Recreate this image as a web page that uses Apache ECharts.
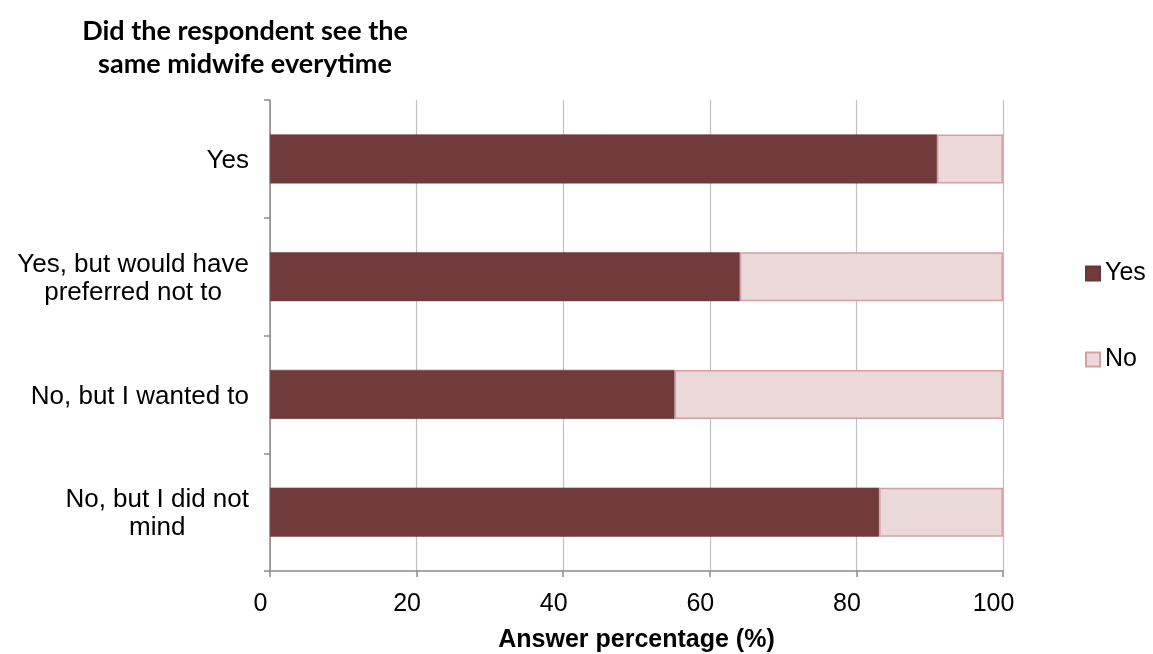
<!DOCTYPE html>
<html>
<head>
<meta charset="utf-8">
<script src="https://cdn.jsdelivr.net/npm/echarts@6/dist/echarts.min.js"></script>
<style>
html,body{margin:0;padding:0;background:#fff;}
#chart{width:1153px;height:654px;}
</style>
</head>
<body>
<div id="chart"></div>
<script>
const categories = ['Yes', 'Yes, but would have\npreferred not to', 'No, but I wanted to', 'No, but I did not\nmind'];
const yesValues = [91.0, 64.1, 55.2, 83.1];
const noValues = [9.0, 35.9, 44.8, 16.9];
const xTicks = [0, 20, 40, 60, 80, 100];
const titleText = 'Did the respondent see the\nsame midwife everytime';
const xAxisName = 'Answer percentage (%)';

const chart = echarts.init(document.getElementById('chart'));
chart.setOption({
  animation: false,
  backgroundColor: '#ffffff',
  title: {
    text: titleText,
    left: 240,
    top: 10,
    textAlign: 'center',
    textStyle: {
      fontFamily: 'Lato',
      fontWeight: 'bold',
      fontSize: 27,
      lineHeight: 33,
      color: '#000',
      align: 'center'
    }
  },
  legend: {
    orient: 'vertical',
    left: 1080,
    top: 256,
    itemWidth: 14,
    itemHeight: 14,
    itemGap: 61,
    icon: 'rect',
    textStyle: { fontFamily: 'Liberation Sans', fontSize: 25, color: '#000' },
    data: ['Yes', 'No']
  },
  grid: { left: 270, right: 150, top: 100, bottom: 83, containLabel: false, outerBoundsMode: 'none' },
  xAxis: {
    type: 'value',
    min: 0,
    max: 100,
    interval: 20,
    name: xAxisName,
    nameLocation: 'middle',
    nameGap: 57,
    nameTextStyle: { fontFamily: 'Liberation Sans', fontWeight: 'bold', fontSize: 25, color: '#000' },
    axisLine: { show: true, lineStyle: { color: '#8c8c8c', width: 1.5 } },
    axisTick: { show: true, length: 6, lineStyle: { color: '#8c8c8c', width: 1.5 } },
    axisLabel: {
      fontFamily: 'Liberation Sans', fontSize: 25, color: '#000', margin: 21,
      padding: [0, 19, 0, 0],
      formatter: v => xTicks.includes(v) ? String(v) : ''
    },
    splitLine: { show: true, lineStyle: { color: '#c0c0c0', width: 1.2 } }
  },
  yAxis: {
    type: 'category',
    inverse: true,
    data: categories,
    axisLine: { show: true, lineStyle: { color: '#8c8c8c', width: 1.5 } },
    axisTick: { show: true, length: 6, alignWithLabel: false, lineStyle: { color: '#8c8c8c', width: 1.5 } },
    axisLabel: {
      fontFamily: 'Liberation Sans', fontSize: 26, color: '#000', margin: 21,
      align: 'right',
      lineHeight: 28,
      padding: [4, 0, 0, 0],
      formatter: v => v.split('\n').map(s => '{c|' + s + '}').join('\n'),
      rich: { c: { align: 'center', fontFamily: 'Liberation Sans', fontSize: 26, lineHeight: 28, color: '#000' } }
    },
    splitLine: { show: false }
  },
  series: [
    {
      name: 'Yes',
      type: 'bar',
      stack: 'total',
      barWidth: 49,
      data: yesValues,
      itemStyle: { color: '#713b3b', borderColor: '#6a3636', borderWidth: 0.5 }
    },
    {
      name: 'No',
      type: 'bar',
      stack: 'total',
      barWidth: 49,
      data: noValues,
      itemStyle: { color: '#ebd9da', borderColor: '#d4a0a3', borderWidth: 1.5 }
    }
  ]
});
</script>
</body>
</html>
